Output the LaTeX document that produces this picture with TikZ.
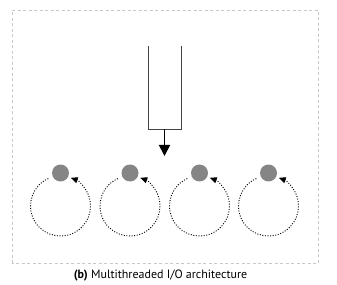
\documentclass[tikz,border=0pt]{standalone}
\usepackage{fontspec}
\setmainfont{PT Sans}
\usepackage{tikz}
\usetikzlibrary{arrows.meta,calc}
\definecolor{framegray}{HTML}{C8C8C8}
\definecolor{dotgray}{HTML}{858585}
\definecolor{queuegray}{HTML}{444444}

\begin{document}
\begin{tikzpicture}[x=1pt, y=1pt,
  frame/.style={draw=framegray, dashed, line width=0.7pt, dash pattern=on 3pt off 2.5pt},
  thread/.style={circle, fill=dotgray, minimum size=17pt, inner sep=0pt},
  queue/.style={draw=queuegray, line width=0.9pt},
  arr/.style={-{Triangle[length=11pt, width=11pt]}, line width=1.8pt},
  loopy/.style={-{Triangle[length=7pt, width=6pt]}, line width=0.9pt, dash pattern=on 1pt off 1.6pt}]
\useasboundingbox (0,0) rectangle (337,284);
% outer frame
\draw[frame] (12,21) rectangle (318,274);
% incoming queue
\coordinate (qtl) at (148,238);
\coordinate (qtr) at (181,238);
\coordinate (qbl) at (148,155);
\coordinate (qbr) at (181,155);
\coordinate (qout) at (164.5,155);
\coordinate (qtip) at (164.5,128);
\draw[queue] (qtl) -- (qbl) -- (qbr) -- (qtr);
\draw[arr] (qout) -- (qtip);
% worker threads
\foreach \i/\x in {1/60.5, 2/130, 3/199.5, 4/268.5} {
  \coordinate (c\i) at (\x,78);
  \node[thread] (t\i) at (\x,111) {};
  \draw[loopy] ([shift={(114:30)}]c\i) arc[start angle=114, end angle=430, radius=30];
}
% caption
\node[font=\fontsize{12}{14}\selectfont, xscale=1.0] (cap) at (160.5,8) {\textbf{(b)} Multithreaded I/O architecture};
\end{tikzpicture}
\end{document}
